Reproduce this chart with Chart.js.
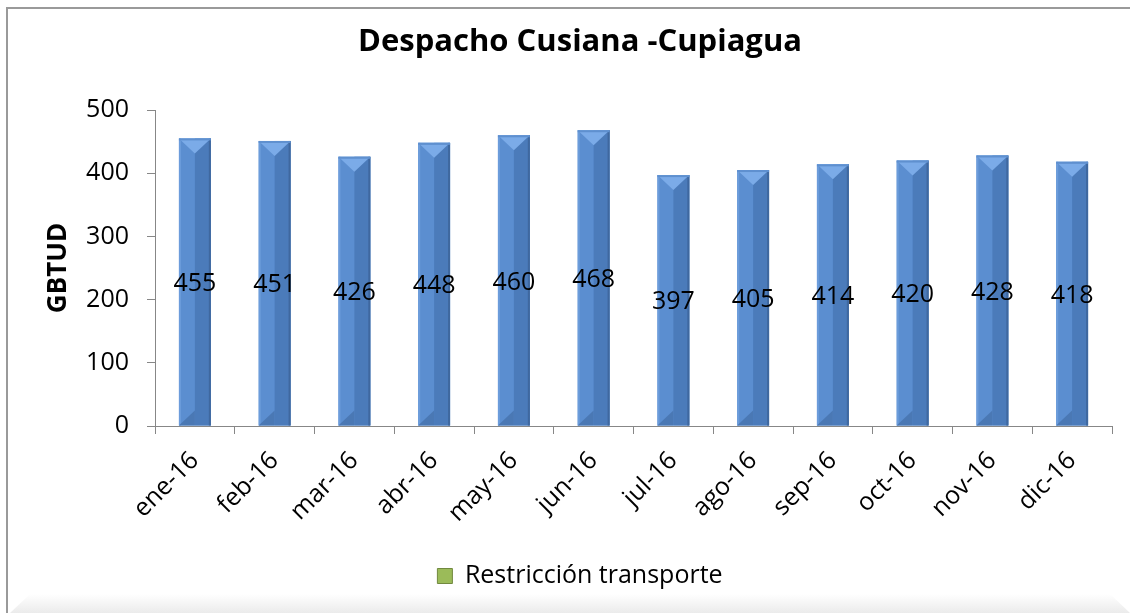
<!DOCTYPE html>
<html>
<head>
<meta charset="utf-8">
<title>Despacho Cusiana -Cupiagua</title>
<script src="https://cdn.jsdelivr.net/npm/chart.js@4.4.1/dist/chart.umd.min.js"></script>
<style>
  html, body { margin: 0; padding: 0; background: #fff; }
  #wrap { width: 1130px; height: 613px; }
</style>
</head>
<body>
<div id="wrap"><canvas id="chart" width="1130" height="613"></canvas></div>
<script>
// datos
const meses = ['ene-16', 'feb-16', 'mar-16', 'abr-16', 'may-16', 'jun-16',
               'jul-16', 'ago-16', 'sep-16', 'oct-16', 'nov-16', 'dic-16'];
const despacho = [455, 451, 426, 448, 460, 468, 397, 405, 414, 420, 428, 418];
const yTicks = [0, 100, 200, 300, 400, 500];
const serieNombre = 'Restricción transporte';
const titulo = 'Despacho Cusiana -Cupiagua';
const ejeY = 'GBTUD';

const FONT = "'Open Sans', 'Liberation Sans', sans-serif";
const AXIS_GREY = '#878787';
Chart.defaults.font.family = FONT;
Chart.defaults.color = '#000';

// marco gris + sombra inferior
const marco = {
  id: 'marco',
  beforeDraw(chart) {
    const ctx = chart.ctx;
    ctx.save();
    ctx.fillStyle = '#fff';
    ctx.fillRect(0, 0, chart.width, chart.height);
    const g = ctx.createLinearGradient(0, 594, 0, 613);
    g.addColorStop(0, 'rgba(235,235,235,0)');
    g.addColorStop(1, '#ebebeb');
    ctx.fillStyle = g;
    ctx.beginPath();
    ctx.moveTo(10, 613);
    ctx.lineTo(30, 594);
    ctx.lineTo(1110, 594);
    ctx.lineTo(1130, 613);
    ctx.closePath();
    ctx.fill();
    ctx.strokeStyle = '#9a9a9a';
    ctx.lineWidth = 2;
    ctx.beginPath();
    ctx.moveTo(7, 613);
    ctx.lineTo(7, 8);
    ctx.lineTo(1130, 8);
    ctx.stroke();
    ctx.restore();
  }
};

// efecto biselado de las columnas (estilo Excel)
const bisel = {
  id: 'bisel',
  afterDatasetsDraw(chart) {
    const ctx = chart.ctx;
    const meta = chart.getDatasetMeta(0);
    ctx.save();
    meta.data.forEach(bar => {
      const { x, y, base, width } = bar.getProps(['x', 'y', 'base', 'width'], true);
      const l = x - width / 2, r = x + width / 2, h = base - y;
      const tri = width * 0.47;
      ctx.fillStyle = '#4b7bba';
      ctx.fillRect(x, y, r - x, h);
      ctx.fillStyle = '#6c9cdb';
      ctx.fillRect(l, y, 2, h);
      ctx.fillStyle = '#3f689f';
      ctx.fillRect(r - 2, y, 2, h);
      // parte inferior
      ctx.fillStyle = '#4a78b4';
      ctx.beginPath();
      ctx.moveTo(l, base);
      ctx.lineTo(x, base);
      ctx.lineTo(x, base - tri);
      ctx.closePath();
      ctx.fill();
      // parte superior
      ctx.fillStyle = '#7babe8';
      ctx.beginPath();
      ctx.moveTo(l, y);
      ctx.lineTo(r, y);
      ctx.lineTo(x, y + tri);
      ctx.closePath();
      ctx.fill();
      ctx.strokeStyle = '#5f90cf';
      ctx.lineWidth = 1;
      ctx.strokeRect(l + 0.5, y + 0.5, width - 1, 1);
    });
    ctx.restore();
  }
};

// etiquetas de valor centradas en la columna
const etiquetas = {
  id: 'etiquetas',
  afterDatasetsDraw(chart) {
    const ctx = chart.ctx;
    const meta = chart.getDatasetMeta(0);
    ctx.save();
    ctx.font = `25px ${FONT}`;
    ctx.fillStyle = '#000';
    ctx.textAlign = 'center';
    ctx.textBaseline = 'middle';
    meta.data.forEach((bar, i) => {
      const { x, y, base } = bar.getProps(['x', 'y', 'base'], true);
      ctx.fillText(String(despacho[i]), x, (y + base) / 2 + 2);
    });
    ctx.restore();
  }
};

new Chart(document.getElementById('chart'), {
  type: 'bar',
  data: {
    labels: meses,
    datasets: [{
      label: serieNombre,
      data: despacho,
      backgroundColor: '#5b8ed0',
      borderWidth: 0,
      barPercentage: 0.4,
      categoryPercentage: 1
    }]
  },
  options: {
    responsive: false,
    animation: false,
    layout: { padding: { left: 48, right: 18, top: 0, bottom: 14.5 } },
    plugins: {
      title: {
        display: true,
        text: titulo,
        color: '#000',
        font: { size: 31, weight: 'bold', family: FONT },
        padding: { top: 23.4, bottom: 49.4 }
      },
      legend: {
        position: 'bottom',
        labels: {
          font: { size: 25, family: FONT },
          color: '#000',
          boxWidth: 15,
          boxHeight: 15,
          padding: 10,
          generateLabels: () => [{
            text: serieNombre,
            fillStyle: '#9bbb59',
            strokeStyle: '#71893f',
            lineWidth: 1,
            hidden: false,
            datasetIndex: 0
          }]
        }
      },
      tooltip: { enabled: false }
    },
    scales: {
      x: {
        grid: { offset: true, drawOnChartArea: false, tickLength: 8, color: AXIS_GREY },
        border: { color: AXIS_GREY, width: 1 },
        ticks: { font: { size: 25 }, color: '#000', minRotation: 45, maxRotation: 45, padding: 12 },
        afterFit: s => { s.height = 127.5; }
      },
      y: {
        min: 0,
        max: 500,
        afterBuildTicks: s => { s.ticks = yTicks.map(v => ({ value: v })); },
        grid: { drawOnChartArea: false, tickLength: 8, color: AXIS_GREY },
        border: { color: AXIS_GREY, width: 1 },
        ticks: { font: { size: 25 }, color: '#000', padding: 18 },
        title: {
          display: true,
          text: ejeY,
          color: '#000',
          font: { size: 26, weight: 'bold', lineHeight: 1 },
          padding: { top: -2, bottom: 0 }
        },
        afterFit: s => { s.width = 107; }
      }
    }
  },
  plugins: [marco, bisel, etiquetas]
});
</script>
</body>
</html>
